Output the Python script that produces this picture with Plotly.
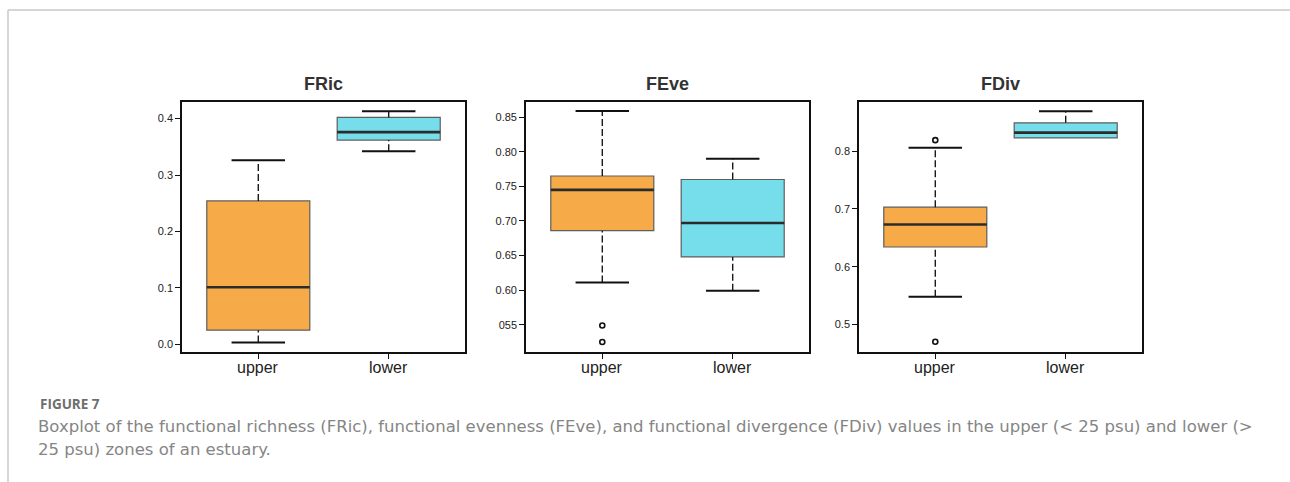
import plotly.graph_objects as go

# Zones along the estuary (x categories)
zones = ["upper", "lower"]

# Box statistics per index: [upper, lower]
fric_low = [0.003, 0.342]
fric_q1 = [0.025, 0.362]
fric_med = [0.101, 0.376]
fric_q3 = [0.254, 0.402]
fric_high = [0.326, 0.413]
fric_out = [[], []]

feve_low = [0.611, 0.599]
feve_q1 = [0.686, 0.648]
feve_med = [0.745, 0.697]
feve_q3 = [0.765, 0.760]
feve_high = [0.859, 0.790]
feve_out = [[0.549, 0.525], []]

fdiv_low = [0.548, 0.823]
fdiv_q1 = [0.634, 0.823]
fdiv_med = [0.673, 0.832]
fdiv_q3 = [0.703, 0.849]
fdiv_high = [0.806, 0.869]
fdiv_out = [[0.819, 0.470], []]

titles = ["FRic", "FEve", "FDiv"]

# Y tick labels for each panel
fric_ticks = [0.0, 0.1, 0.2, 0.3, 0.4]
fric_ticktext = ["0.0", "0.1", "0.2", "0.3", "0.4"]
feve_ticks = [0.55, 0.60, 0.65, 0.70, 0.75, 0.80, 0.85]
feve_ticktext = ["055", "0.60", "0.65", "0.70", "0.75", "0.80", "0.85"]
fdiv_ticks = [0.5, 0.6, 0.7, 0.8]
fdiv_ticktext = ["0.5", "0.6", "0.7", "0.8"]

caption_label = "FIGURE 7"
caption_lines = [
    "Boxplot of the functional richness (FRic), functional evenness (FEve), "
    "and functional divergence (FDiv) values in the upper (< 25 psu) and lower (>",
    "25 psu) zones of an estuary.",
]

panels = [
    (fric_low, fric_q1, fric_med, fric_q3, fric_high, fric_out, fric_ticks, fric_ticktext, [-0.0137, 0.4294]),
    (feve_low, feve_q1, feve_med, feve_q3, feve_high, feve_out, feve_ticks, feve_ticktext, [0.5106, 0.872]),
    (fdiv_low, fdiv_q1, fdiv_med, fdiv_q3, fdiv_high, fdiv_out, fdiv_ticks, fdiv_ticktext, [0.4523, 0.885]),
]

fills = ["#F6AA48", "#76DDEA"]
W, H = 1290, 482
x_px = [(182, 465), (526, 809), (859, 1142)]
y_dom = [(H - 352) / H, (H - 102) / H]
box_w = 0.79
cap_half = 0.205

fig = go.Figure()
layout_axes = {}
annotations = []

for i, (lo, q1, med, q3, hi, outs, tv, tt, yr) in enumerate(panels):
    n = "" if i == 0 else str(i + 1)
    xa, ya = "x" + n, "y" + n
    for j in range(len(zones)):
        pos = j
        # whiskers (dashed) drawn first so the box sits on top
        for a, b in ((q3[j], hi[j]), (lo[j], q1[j])):
            if a != b:
                fig.add_trace(go.Scatter(x=[pos, pos], y=[a, b], mode="lines",
                                         line=dict(color="#1a1a1a", width=1.4, dash="7px,3px"),
                                         xaxis=xa, yaxis=ya, showlegend=False, hoverinfo="skip"))
        for f, q in ((hi[j], q3[j]), (lo[j], q1[j])):
            if f != q:
                fig.add_trace(go.Scatter(x=[pos - cap_half, pos + cap_half], y=[f, f], mode="lines",
                                         line=dict(color="#111111", width=2),
                                         xaxis=xa, yaxis=ya, showlegend=False, hoverinfo="skip"))
        fig.add_trace(go.Box(x=[pos], q1=[q1[j]], median=[med[j]], q3=[q3[j]],
                             lowerfence=[q1[j]], upperfence=[q3[j]],
                             width=box_w, whiskerwidth=0, fillcolor=fills[j],
                             line=dict(color="#5e5e5e", width=1.2),
                             boxpoints=False, xaxis=xa, yaxis=ya, showlegend=False))
        # median bar
        fig.add_trace(go.Scatter(x=[pos - box_w / 2, pos + box_w / 2], y=[med[j], med[j]], mode="lines",
                                 line=dict(color="#2b2b2b", width=2.6),
                                 xaxis=xa, yaxis=ya, showlegend=False, hoverinfo="skip"))
        if outs[j]:
            fig.add_trace(go.Scatter(x=[pos] * len(outs[j]), y=outs[j], mode="markers",
                                     marker=dict(symbol="circle-open", size=5, color="#111111",
                                                 line=dict(color="#111111", width=1.6)),
                                     xaxis=xa, yaxis=ya, showlegend=False, hoverinfo="skip"))
        # category label under the tick
        annotations.append(dict(text=zones[j], x=pos, y=(H - 367) / H, xref=xa, yref="paper",
                                showarrow=False, xanchor="center", yanchor="middle",
                                font=dict(family="Liberation Sans, Arial", size=16, color="#222222")))

    x0, x1 = x_px[i]
    axis_style = dict(showline=True, mirror=True, linecolor="#111111", linewidth=1.6,
                      ticks="outside", ticklen=5, tickwidth=1.3, tickcolor="#111111",
                      showgrid=False, zeroline=False)
    layout_axes["xaxis" + n] = dict(domain=[x0 / W, x1 / W], anchor=ya, range=[-0.585, 1.585],
                                   tickvals=[0, 1], showticklabels=False, **axis_style)
    layout_axes["yaxis" + n] = dict(domain=y_dom, anchor=xa, range=yr, tickvals=tv, ticktext=tt,
                                   tickfont=dict(family="Liberation Sans, Arial", size=11, color="#222222"),
                                   **axis_style)

for i, t in enumerate(titles):
    x0, x1 = x_px[i]
    annotations.append(dict(text="<b>" + t + "</b>", x=(x0 + x1) / 2 / W, y=(H - 84) / H,
                            xref="paper", yref="paper", showarrow=False, xanchor="center", yanchor="middle",
                            font=dict(family="Liberation Sans, Arial", size=18, color="#333333")))

annotations.append(dict(text="<b>" + caption_label + "</b>", x=38 / W, y=(H - 404) / H,
                        xref="paper", yref="paper", showarrow=False, xanchor="left", yanchor="middle",
                        font=dict(family="Open Sans", size=13.5, color="#6e6e6e")))
for k, line in enumerate(caption_lines):
    annotations.append(dict(text=line, x=36 / W, y=(H - (426 + 23 * k)) / H, xref="paper", yref="paper",
                            showarrow=False, xanchor="left", yanchor="middle", align="left",
                            font=dict(family="DejaVu Sans", size=16.5, color="#858585")))

shapes = [
    dict(type="line", xref="paper", yref="paper", x0=8 / W, x1=1, y0=(H - 10) / H, y1=(H - 10) / H,
         line=dict(color="#c8c8c8", width=1.5)),
    dict(type="line", xref="paper", yref="paper", x0=8 / W, x1=8 / W, y0=0, y1=(H - 10) / H,
         line=dict(color="#c8c8c8", width=1.5)),
]

fig.update_layout(width=W, height=H, margin=dict(l=0, r=0, t=0, b=0),
                  paper_bgcolor="white", plot_bgcolor="white",
                  annotations=annotations, shapes=shapes, **layout_axes)

fig.write_html("out.html")
